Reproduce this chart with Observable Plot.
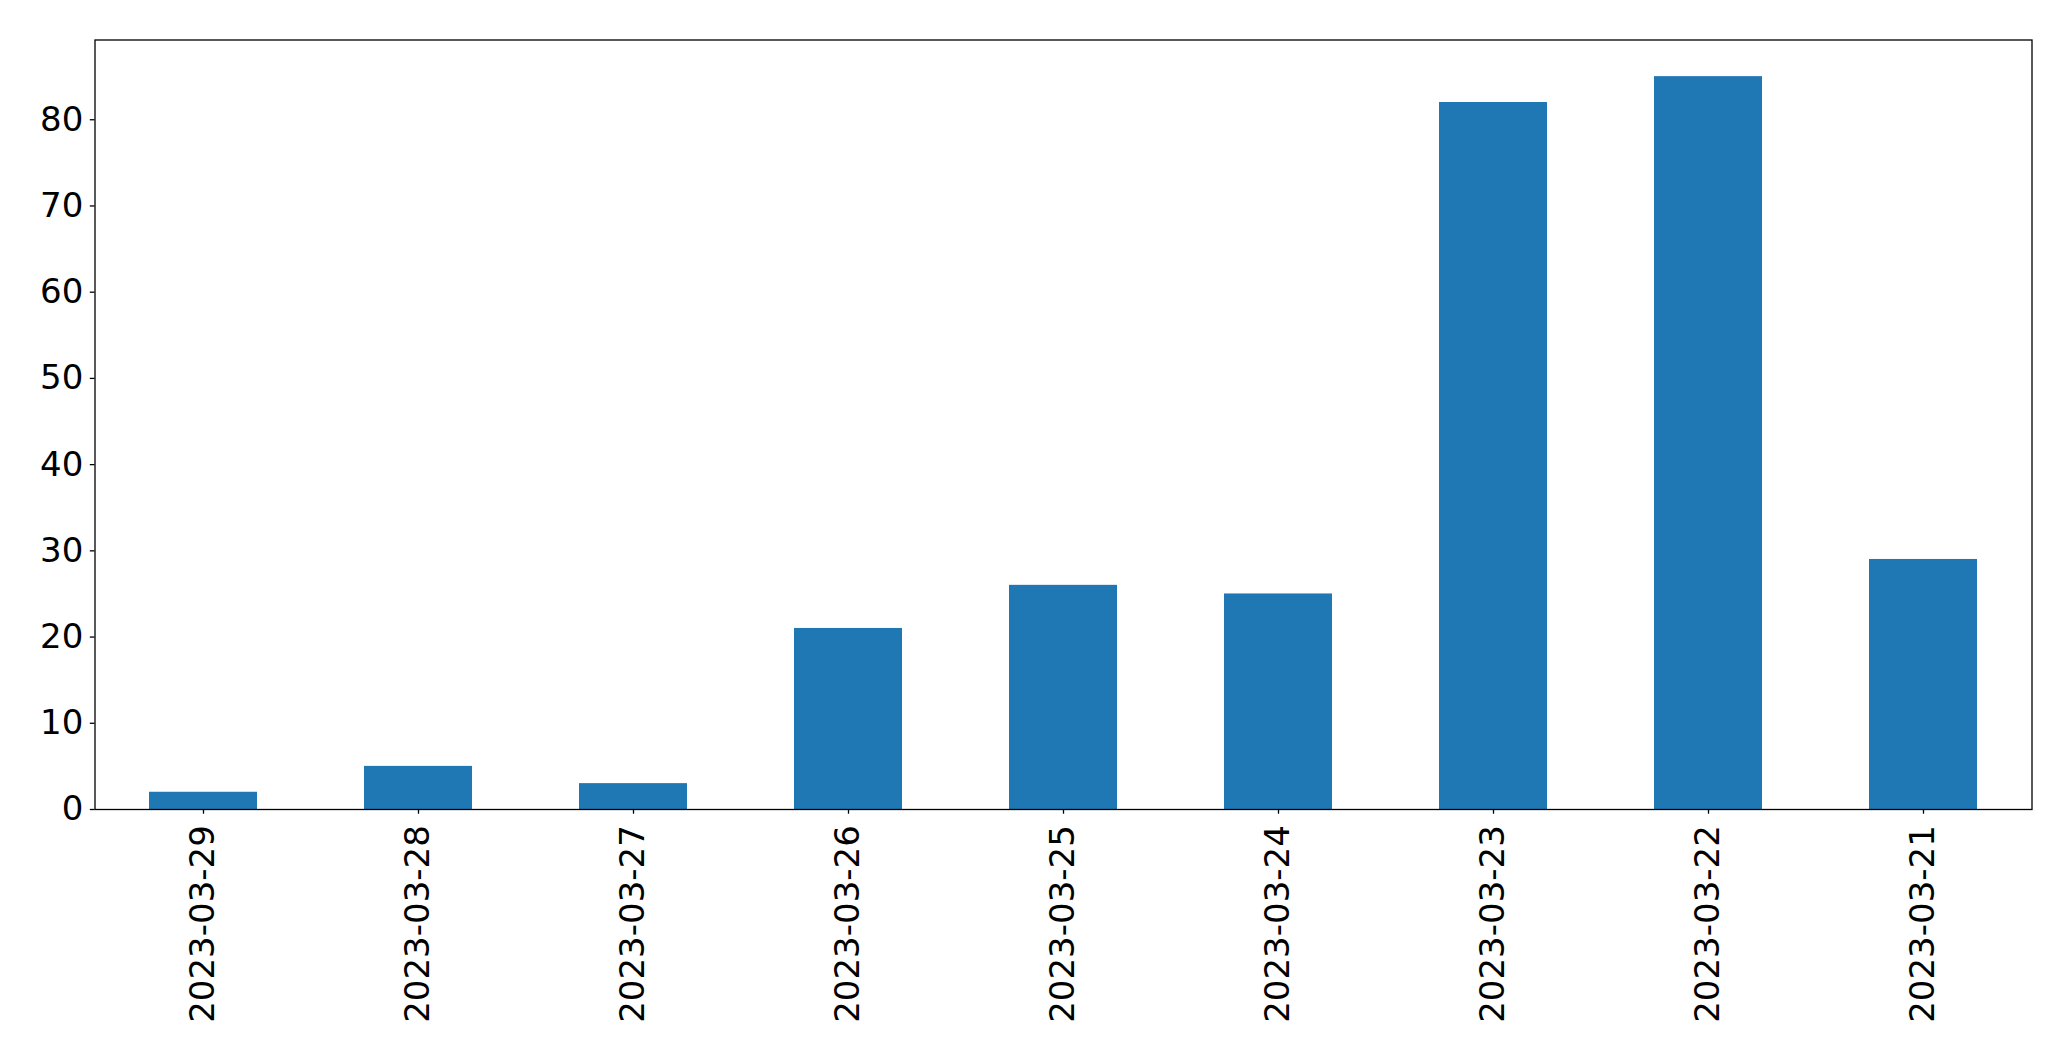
<!DOCTYPE html>
<html>
<head>
<meta charset="utf-8">
<script src="https://cdn.jsdelivr.net/npm/d3@7"></script>
<script src="https://cdn.jsdelivr.net/npm/@observablehq/plot@0.6"></script>
<style>
  html, body { margin: 0; padding: 0; background: #fff; }
  #chart svg { display: block; }
</style>
</head>
<body>
<div id="chart"></div>
<script>
const dates = ["2023-03-29", "2023-03-28", "2023-03-27", "2023-03-26", "2023-03-25", "2023-03-24", "2023-03-23", "2023-03-22", "2023-03-21"];
const counts = [2, 5, 3, 21, 26, 25, 82, 85, 29];
const yTicks = [0, 10, 20, 30, 40, 50, 60, 70, 80];

const data = dates.map((d, i) => ({date: d, count: counts[i]}));

const chart = Plot.plot({
  width: 2071,
  height: 1061,
  marginLeft: 94.5,
  marginRight: 39.5,
  marginTop: 39.5,
  marginBottom: 252,
  style: {fontFamily: "'DejaVu Sans', sans-serif", fontSize: "34px", color: "#000", background: "#fff"},
  x: {type: "band", domain: dates, paddingInner: 0.5, paddingOuter: 0.25, label: null},
  y: {domain: [0, d3.max(counts) * 1.05], label: null},
  marks: [
    Plot.barY(data, {x: "date", y: "count", fill: "#1f77b4"}),
    Plot.axisY({ticks: yTicks, tickSize: 4.7, tickPadding: 7, fontSize: 34, label: null, stroke: "#000", strokeWidth: 1.3, strokeOpacity: 1}),
    Plot.axisX({tickSize: 4.7, tickPadding: 11, tickRotate: -90, fontSize: 34, label: null, stroke: "#000", strokeWidth: 1.3, strokeOpacity: 1}),
    Plot.frame({stroke: "#000", strokeWidth: 1.3})
  ]
});
document.getElementById("chart").appendChild(chart);
</script>
</body>
</html>
